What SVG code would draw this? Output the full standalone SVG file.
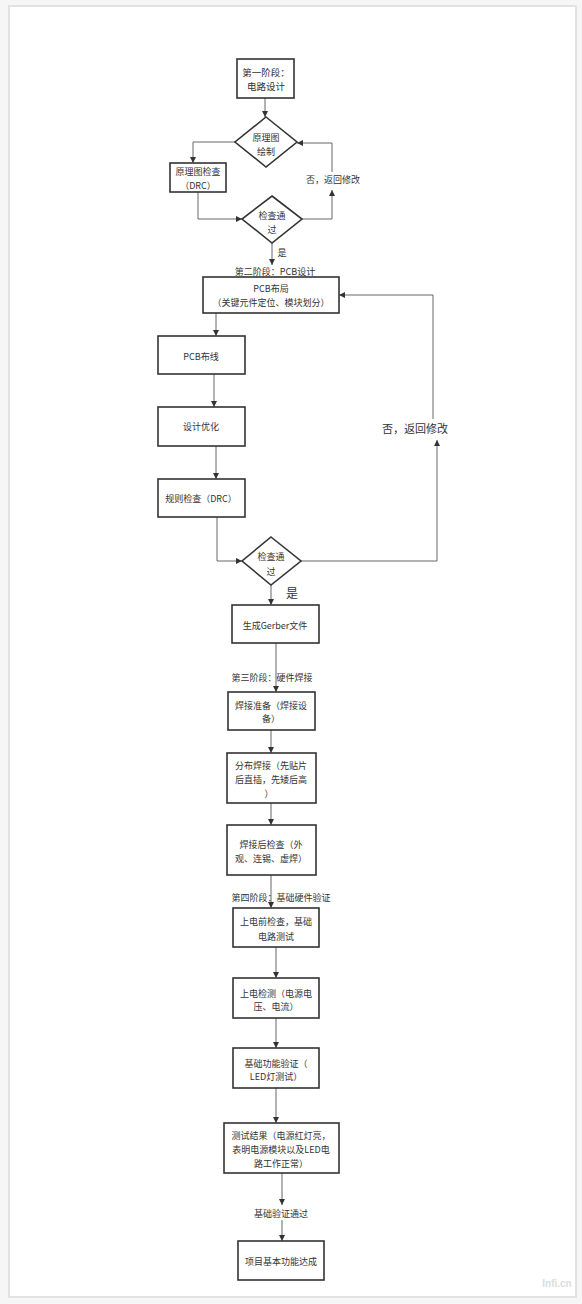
<svg xmlns="http://www.w3.org/2000/svg" width="582" height="1304" viewBox="0 0 582 1304">
<defs>
<marker id="ah" viewBox="0 0 10 10" refX="10" refY="5" markerWidth="6" markerHeight="6" orient="auto" markerUnits="userSpaceOnUse">
<path d="M0,0 L10,5 L0,10 z" fill="#333"/>
</marker>
</defs>
<style>
.box{fill:#fff;stroke:#333;stroke-width:1.6}
.t{font-family:"Noto Sans CJK SC","Noto Sans",sans-serif;font-size:9px;fill:#333;text-anchor:middle;dominant-baseline:central}
.lbl{font-family:"Noto Sans CJK SC","Noto Sans",sans-serif;font-size:9px;fill:#333;text-anchor:middle;dominant-baseline:central}
.c{fill:none;stroke:#666;stroke-width:1;stroke-linejoin:round;marker-end:url(#ah)}
</style>
<rect x="0" y="0" width="582" height="1304" fill="#f6f6f6"/>
<rect x="9" y="6" width="567" height="1291" fill="#fff" stroke="#e2e2e2" stroke-width="2"/>

<g id="connectors">
<path class="c" d="M265,98 V117"/>
<path class="c" d="M235,142 H193 V163"/>
<path class="c" d="M198,192 V219 H242"/>
<path class="c" d="M302,219 H332 V190"/>
<path class="c" d="M332,172 V143 H297"/>
<path class="c" d="M272,243 V265"/>
<path class="c" d="M216,313 V336"/>
<path class="c" d="M214,374 V407"/>
<path class="c" d="M216,446 V479"/>
<path class="c" d="M217,517 V561 H242"/>
<path class="c" d="M301,561 H437 V440"/>
<path class="c" d="M433,419 V295 H339"/>
<path class="c" d="M271,585 V605"/>
<path class="c" d="M276,643 V692"/>
<path class="c" d="M271,730 V753"/>
<path class="c" d="M271,803 V825"/>
<path class="c" d="M271,875 V908"/>
<path class="c" d="M276,947 V978"/>
<path class="c" d="M276,1018 V1048"/>
<path class="c" d="M276,1088 V1123"/>
<path class="c" d="M282,1173 V1205"/>
<path class="c" d="M282,1220 V1241"/>
<text class="lbl" x="333" y="179">否，返回修改</text>
<text class="lbl" x="282" y="252">是</text>
<text class="lbl" x="275" y="271">第二阶段：PCB设计</text>
<text class="lbl" x="415" y="428" style="font-size:11px">否，返回修改</text>
<text class="lbl" x="292" y="592" style="font-size:12px">是</text>
<text class="lbl" x="272" y="677">第三阶段：硬件焊接</text>
<text class="lbl" x="281" y="897">第四阶段：基础硬件验证</text>
<text class="lbl" x="281" y="1213">基础验证通过</text>
</g>

<g id="n1"><rect class="box" x="237" y="59" width="57" height="39"/>
<text class="t" x="266" y="72" style="font-size:9.5px">第一阶段：</text><text class="t" x="266" y="86" style="font-size:9.5px">电路设计</text></g>

<g id="n2"><polygon class="box" points="266,117 297,142 266,167 235,142"/>
<text class="t" x="266" y="137">原理图</text><text class="t" x="266" y="151">绘制</text></g>

<g id="n3"><rect class="box" x="170" y="163" width="56" height="29"/>
<text class="t" x="198" y="171">原理图检查</text><text class="t" x="198" y="185">（DRC）</text></g>

<g id="n4"><polygon class="box" points="272,196 302,219 272,243 242,219"/>
<text class="t" x="272" y="215">检查通</text><text class="t" x="272" y="229">过</text></g>

<g id="n5"><rect class="box" x="203" y="277" width="136" height="36"/>
<text class="t" x="271" y="288">PCB布局</text><text class="t" x="271" y="302">（关键元件定位、模块划分）</text></g>

<g id="n6"><rect class="box" x="158" y="336" width="87" height="38"/>
<text class="t" x="201" y="356">PCB布线</text></g>

<g id="n7"><rect class="box" x="158" y="407" width="87" height="39"/>
<text class="t" x="201" y="426">设计优化</text></g>

<g id="n8"><rect class="box" x="158" y="479" width="87" height="38"/>
<text class="t" x="201" y="498">规则检查（DRC）</text></g>

<g id="n9"><polygon class="box" points="271,537 301,561 271,585 242,561"/>
<text class="t" x="271" y="556">检查通</text><text class="t" x="271" y="571">过</text></g>

<g id="n10"><rect class="box" x="232" y="605" width="87" height="38"/>
<text class="t" x="275" y="625">生成Gerber文件</text></g>

<g id="n11"><rect class="box" x="228" y="692" width="87" height="38"/>
<text class="t" x="271" y="705">焊接准备（焊接设</text><text class="t" x="271" y="718">备）</text></g>

<g id="n12"><rect class="box" x="227" y="753" width="89" height="50"/>
<text class="t" x="271" y="765">分布焊接（先贴片</text><text class="t" x="271" y="779">后直插，先矮后高</text><text class="t" x="269" y="793">）</text></g>

<g id="n13"><rect class="box" x="227" y="825" width="89" height="50"/>
<text class="t" x="271" y="844">焊接后检查（外</text><text class="t" x="271" y="858">观、连锡、虚焊）</text></g>

<g id="n14"><rect class="box" x="233" y="908" width="86" height="39"/>
<text class="t" x="276" y="921">上电前检查，基础</text><text class="t" x="276" y="936">电路测试</text></g>

<g id="n15"><rect class="box" x="233" y="978" width="86" height="40"/>
<text class="t" x="276" y="993">上电检测（电源电</text><text class="t" x="276" y="1006">压、电流）</text></g>

<g id="n16"><rect class="box" x="233" y="1048" width="86" height="40"/>
<text class="t" x="276" y="1063">基础功能验证（</text><text class="t" x="276" y="1076">LED灯测试）</text></g>

<g id="n17"><rect class="box" x="224" y="1123" width="115" height="50"/>
<text class="t" x="281" y="1135">测试结果（电源红灯亮，</text><text class="t" x="281" y="1149">表明电源模块以及LED电</text><text class="t" x="281" y="1163">路工作正常）</text></g>

<g id="n18"><rect class="box" x="238" y="1241" width="86" height="39"/>
<text class="t" x="281" y="1261">项目基本功能达成</text></g>

<text x="557" y="1283" style="font-family:'Liberation Sans',sans-serif;font-size:10px;font-weight:bold;fill:#dcdcdc;text-anchor:middle;dominant-baseline:central">Infi.cn</text>
</svg>
